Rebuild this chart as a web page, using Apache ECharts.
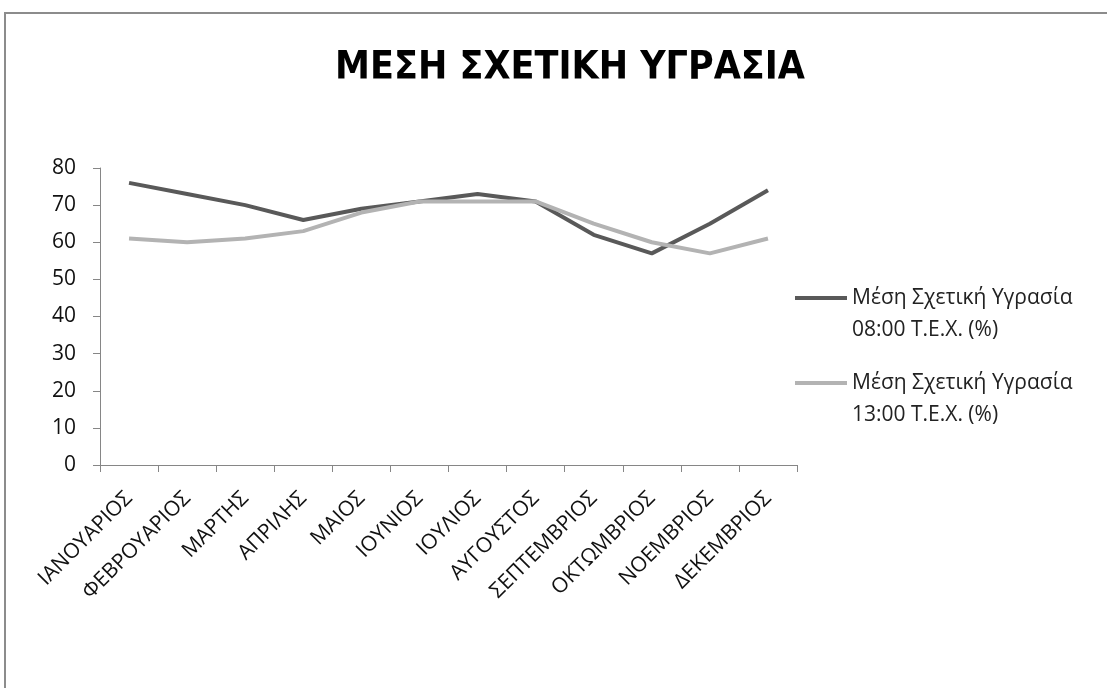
<!DOCTYPE html>
<html>
<head>
<meta charset="utf-8">
<script src="https://cdn.jsdelivr.net/npm/echarts@6/dist/echarts.min.js"></script>
<style>
  html, body { margin: 0; padding: 0; background: #fff; }
  #chart { width: 1107px; height: 688px; }
</style>
</head>
<body>
<div id="chart"></div>
<script>
// monthly mean relative humidity
const months = ['ΙΑΝΟΥΑΡΙΟΣ', 'ΦΕΒΡΟΥΑΡΙΟΣ', 'ΜΑΡΤΗΣ', 'ΑΠΡΙΛΗΣ', 'ΜΑΙΟΣ', 'ΙΟΥΝΙΟΣ',
  'ΙΟΥΛΙΟΣ', 'ΑΥΓΟΥΣΤΟΣ', 'ΣΕΠΤΕΜΒΡΙΟΣ', 'ΟΚΤΩΜΒΡΙΟΣ', 'ΝΟΕΜΒΡΙΟΣ', 'ΔΕΚΕΜΒΡΙΟΣ'];
const humidity08 = [76, 73, 70, 66, 69, 71, 73, 71, 62, 57, 65, 74];
const humidity13 = [61, 60, 61, 63, 68, 71, 71, 71, 65, 60, 57, 61];
const seriesNames = ['Μέση Σχετική Υγρασία\n08:00 Τ.Ε.Χ. (%)', 'Μέση Σχετική Υγρασία\n13:00 Τ.Ε.Χ. (%)'];

const font = 'Open Sans, Liberation Sans, sans-serif';
const axisGray = '#868686';
// legend swatch: a bar at the top, plus a speck at the bottom so the
// swatch sits level with the first text line instead of the middle
const legendIcon = 'path://M0,0h52v4h-52z M0,35.9h0.05v0.1h-0.05z';

const chart = echarts.init(document.getElementById('chart'));
chart.setOption({
    animation: false,
    backgroundColor: '#fff',
    title: {
        text: 'ΜΕΣΗ ΣΧΕΤΙΚΗ ΥΓΡΑΣΙΑ',
        left: 565,
        textAlign: 'center',
        top: 44,
        textStyle: {
            fontFamily: 'DejaVu Sans Condensed, DejaVu Sans, sans-serif',
            fontWeight: 'bold',
            fontSize: 39,
            color: '#000'
        }
    },
    graphic: [{
        type: 'rect',
        shape: { x: 5, y: 13, width: 1120, height: 700 },
        style: { fill: 'none', stroke: '#8c8c8c', lineWidth: 2 },
        silent: true
    }],
    legend: {
        orient: 'vertical',
        left: 790,
        top: 277,
        itemGap: 21,
        itemWidth: 52,
        itemHeight: 36,
        icon: legendIcon,
        textStyle: { fontFamily: font, fontSize: 21, color: '#222', lineHeight: 32 },
        data: seriesNames
    },
    grid: { left: 100, right: 310, top: 168, bottom: 223 },
    xAxis: {
        type: 'category',
        data: months,
        boundaryGap: true,
        axisLine: { lineStyle: { color: axisGray, width: 1 } },
        axisTick: { show: true, length: 7, lineStyle: { color: axisGray } },
        axisLabel: {
            interval: 0,
            rotate: 45,
            fontFamily: font,
            fontSize: 21,
            color: '#111',
            margin: 30
        }
    },
    yAxis: {
        type: 'value',
        min: 0,
        max: 80,
        interval: 10,
        axisLine: { show: true, lineStyle: { color: axisGray, width: 1 } },
        axisTick: { show: true, length: 7, lineStyle: { color: axisGray } },
        splitLine: { show: false },
        axisLabel: { fontFamily: font, fontSize: 21, color: '#111', margin: 24 }
    },
    series: [{
        name: seriesNames[0],
        type: 'line',
        data: humidity08,
        symbol: 'none',
        lineStyle: { color: '#595959', width: 4 },
        itemStyle: { color: '#595959' }
    }, {
        name: seriesNames[1],
        type: 'line',
        data: humidity13,
        symbol: 'none',
        lineStyle: { color: '#b3b3b3', width: 4 },
        itemStyle: { color: '#b3b3b3' }
    }]
});
</script>
</body>
</html>
